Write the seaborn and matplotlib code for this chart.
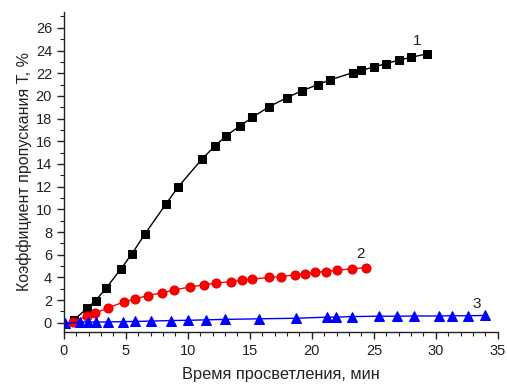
import matplotlib
matplotlib.use('Agg')
import matplotlib.pyplot as plt
from matplotlib.ticker import MultipleLocator
import seaborn as sns

# ==========================================================
# DATA
# ==========================================================
x1 = [0.8, 1.9, 2.55, 3.4, 4.6, 5.5, 6.55, 8.25, 9.2, 11.15, 12.2, 13.1, 14.2,
      15.2, 16.55, 18.0, 19.2, 20.5, 21.45, 23.3, 24.0, 25.0, 26.0, 27.0, 28.0, 29.25]
y1 = [0.25, 1.3, 1.95, 3.05, 4.75, 6.1, 7.85, 10.5, 11.95, 14.45, 15.6, 16.5, 17.35,
      18.1, 19.05, 19.85, 20.45, 21.0, 21.4, 22.05, 22.25, 22.55, 22.85, 23.15, 23.4, 23.7]

x2 = [0.7, 1.9, 2.5, 3.55, 4.85, 5.75, 6.75, 7.95, 8.9, 10.15, 11.3, 12.25, 13.45,
      14.35, 15.2, 16.55, 17.5, 18.6, 19.45, 20.25, 21.1, 22.05, 23.2, 24.4]
y2 = [0.05, 0.6, 0.85, 1.3, 1.85, 2.1, 2.4, 2.65, 2.9, 3.15, 3.35, 3.5, 3.62,
      3.75, 3.85, 4.0, 4.08, 4.22, 4.33, 4.45, 4.52, 4.62, 4.77, 4.85]

x3 = [0.05, 1.3, 1.95, 2.6, 3.55, 4.8, 5.75, 7.05, 8.65, 10.05, 11.45, 13.0, 15.7,
      18.7, 21.25, 21.95, 23.2, 25.45, 26.9, 28.2, 30.25, 31.3, 32.6, 34.0]
y3 = [-0.05, 0.05, 0.08, 0.06, 0.08, 0.1, 0.12, 0.15, 0.2, 0.22, 0.26, 0.3, 0.35,
      0.4, 0.5, 0.5, 0.55, 0.58, 0.58, 0.6, 0.6, 0.62, 0.62, 0.65]

curve_labels = ["1", "2", "3"]
label_pos = [(28.5, 24.8), (23.9, 6.1), (33.3, 1.7)]

# ==========================================================
# STYLE
# ==========================================================
sns.set_style("ticks")
plt.rcParams['font.family'] = ['Liberation Sans', 'DejaVu Sans']

fig = plt.figure(figsize=(5.07, 3.85), dpi=100)
ax = fig.add_axes([0.126, 0.138, 0.856, 0.831])

sns.lineplot(x=x1, y=y1, sort=False, color='black', marker='s', markersize=5.5,
             markeredgecolor='black', linewidth=1.0, ax=ax)
sns.lineplot(x=x2, y=y2, sort=False, color='red', marker='o', markersize=6.5,
             markeredgecolor='#dd0000', linewidth=1.0, ax=ax)
sns.lineplot(x=x3, y=y3, sort=False, color='blue', marker='^', markersize=6.5,
             markeredgecolor='blue', linewidth=1.0, ax=ax)

for txt, (tx, ty) in zip(curve_labels, label_pos):
    ax.text(tx, ty, txt, fontsize=11, color='#222222', ha='center', va='center')

ax.set_xlim(0, 35)
ax.set_ylim(-0.8, 27.4)
ax.xaxis.set_major_locator(MultipleLocator(5))
ax.xaxis.set_minor_locator(MultipleLocator(1))
ax.yaxis.set_major_locator(MultipleLocator(2))
ax.yaxis.set_minor_locator(MultipleLocator(1))
ax.tick_params(which='major', direction='out', length=5, width=1, labelsize=10.5, colors='#222222')
ax.tick_params(which='minor', direction='out', length=3, width=0.8, colors='#222222')

sns.despine(ax=ax)
for s in ['left', 'bottom']:
    ax.spines[s].set_linewidth(1.0)
    ax.spines[s].set_color('#222222')

ax.set_xlabel("Время просветления, мин", fontsize=11.8, labelpad=7, color='#222222')
ax.set_ylabel("Коэффициент пропускания Т, %", fontsize=11.5, labelpad=3, color='#222222')

fig.savefig("out.png", dpi=100)
